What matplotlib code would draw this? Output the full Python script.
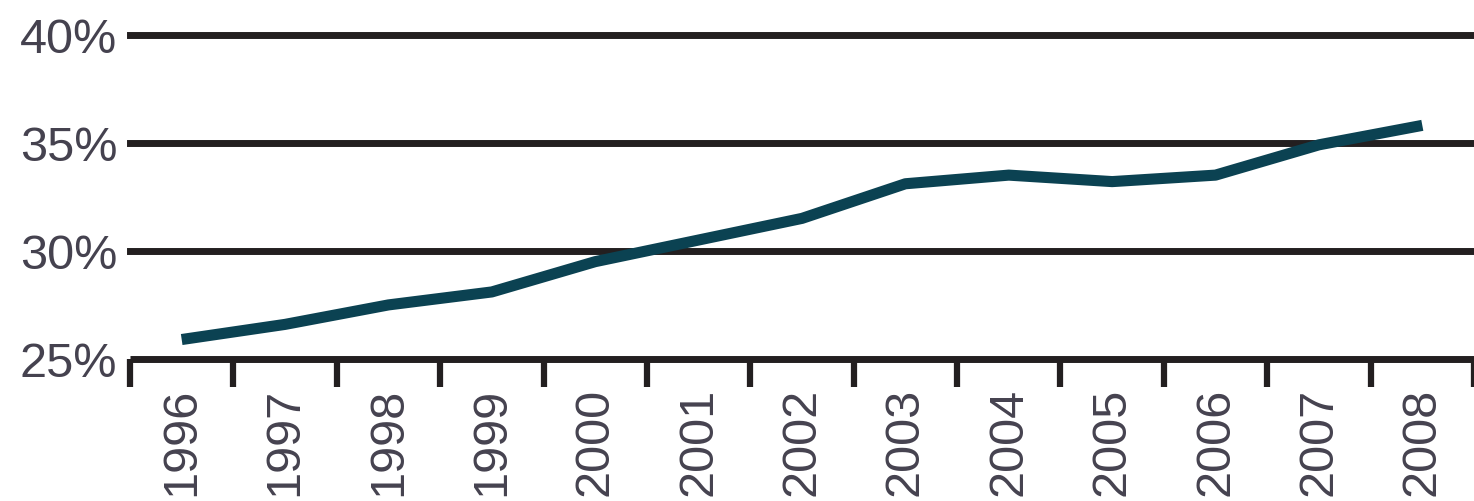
import numpy as np
import matplotlib.pyplot as plt

# share of total, by year
years = ['1996', '1997', '1998', '1999', '2000', '2001', '2002',
         '2003', '2004', '2005', '2006', '2007', '2008']
share = [25.9, 26.6, 27.5, 28.1, 29.5, 30.5, 31.5,
         33.1, 33.5, 33.2, 33.5, 34.9, 35.8]
ytick_vals = [25, 30, 35, 40]
ytick_labels = ['25%', '30%', '35%', '40%']

ink = '#231f20'
line_col = '#0b4252'
text_col = '#45424f'

plt.rcParams['font.family'] = ['Liberation Sans', 'DejaVu Sans']

fig = plt.figure(figsize=(14.74, 5.02), dpi=100)
ax = fig.add_axes([130/1474, 142/502, 1 - 130/1474, (360 - 35.5)/502])

x = np.arange(len(years))
ax.set_xlim(-0.5, len(years) - 0.5)
ax.set_ylim(ytick_vals[0], ytick_vals[-1])

# horizontal rules above the baseline
for v in ytick_vals[1:]:
    ax.axhline(v, color=ink, lw=5, clip_on=False, zorder=1)

ax.plot(x, share, color=line_col, lw=8, solid_joinstyle='round',
        solid_capstyle='butt', zorder=3, clip_on=False)

for s in ['top', 'right', 'left']:
    ax.spines[s].set_visible(False)
ax.spines['bottom'].set_color(ink)
ax.spines['bottom'].set_linewidth(5)
ax.spines['bottom'].set_capstyle('butt')

# category boundaries get the tick marks, centres get the labels
ax.set_xticks(np.arange(-0.5, len(years)))
ax.set_xticklabels([])
ax.tick_params(axis='x', which='major', length=20, width=4.5, color=ink)
ax.set_xticks(x, minor=True)
ax.set_xticklabels(years, minor=True, rotation=90, fontsize=35,
                   color=text_col, va='top', ha='center')
ax.tick_params(axis='x', which='minor', length=0, pad=20)

ax.set_yticks(ytick_vals)
ax.set_yticklabels(ytick_labels, fontsize=35, color=text_col)
ax.tick_params(axis='y', length=0, pad=9)

fig.savefig('out.png', dpi=100)
